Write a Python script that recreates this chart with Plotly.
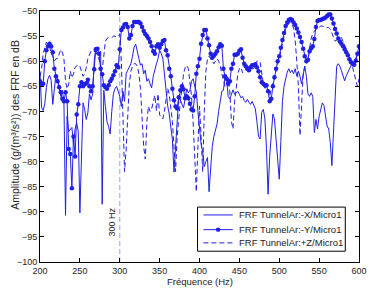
import plotly.graph_objects as go

freq = list(range(200, 601, 2))

frf_x = [
-62.5,-69.2,-69.8,-68.5,-65.3,-63.5,-62.8,-63.8,-68.6,-65.8,
-62.6,-63.3,-65.5,-67.0,-65.8,-68.0,-90.7,-71.0,-74.0,-73.5,
-73.2,-76.6,-73.5,-72.3,-74.0,-90.2,-76.8,-68.3,-69.6,-71.6,
-70.3,-66.5,-67.7,-66.5,-59.9,-57.4,-58.7,-58.4,-58.0,-88.5,
-65.8,-69.0,-72.0,-73.0,-74.5,-70.0,-66.5,-65.5,-65.0,-66.0,
-67.0,-69.0,-66.0,-68.0,-62.5,-61.8,-61.2,-60.5,-59.0,-57.2,
-56.6,-58.5,-59.5,-60.8,-60.5,-62.5,-61.8,-64.0,-63.5,-64.5,
-65.3,-63.0,-61.5,-60.5,-59.5,-57.8,-58.5,-59.4,-62.5,-66.0,
-68.8,-70.5,-73.0,-75.6,-82.1,-77.6,-71.4,-67.1,-67.8,-68.5,
-69.3,-67.5,-65.5,-66.3,-65.8,-64.0,-63.5,-65.0,-66.0,-70.0,
-73.5,-76.5,-78.0,-81.0,-80.0,-79.2,-86.0,-80.1,-77.0,-75.0,
-74.0,-72.5,-70.0,-67.5,-66.0,-65.8,-63.0,-63.5,-67.0,-67.5,
-66.5,-65.7,-66.6,-66.3,-66.0,-66.6,-67.3,-67.0,-67.8,-68.2,
-67.6,-68.2,-68.6,-68.0,-68.8,-69.5,-72.0,-75.0,-75.5,-70.2,
-69.6,-71.5,-77.4,-86.5,-79.0,-74.0,-70.5,-71.5,-76.0,-81.0,
-83.5,-76.0,-68.0,-65.0,-63.5,-62.2,-61.5,-62.3,-61.8,-62.5,
-61.5,-63.0,-62.0,-63.0,-64.5,-62.5,-61.0,-63.0,-66.5,-67.0,
-66.3,-67.0,-74.2,-71.6,-73.5,-71.0,-69.5,-68.3,-68.8,-71.0,
-72.9,-73.5,-76.2,-80.8,-73.6,-65.1,-61.0,-60.5,-61.0,-61.9,
-63.0,-63.9,-62.9,-62.2,-61.5,-60.9,-60.5,-60.0,-59.3,-58.8,
-58.0]

frf_y = [
-64.0,-64.5,-64.5,-60.0,-57.8,-57.0,-56.5,-57.0,-58.2,-61.5,
-63.0,-64.0,-65.2,-66.2,-67.5,-68.0,-66.2,-68.0,-77.5,-78.5,
-85.3,-75.0,-79.0,-70.6,-68.6,-65.0,-64.2,-65.0,-64.6,-64.4,
-63.7,-65.0,-66.0,-65.0,-61.6,-57.6,-57.5,-58.5,-61.5,-62.6,
-64.8,-65.2,-65.5,-64.8,-64.0,-63.5,-62.8,-62.0,-60.8,-61.2,
-57.6,-53.8,-53.3,-52.7,-52.6,-53.2,-55.5,-54.8,-53.0,-52.2,
-52.2,-52.2,-52.2,-52.5,-53.2,-54.0,-54.6,-55.0,-55.5,-56.2,
-57.0,-58.0,-58.5,-57.0,-56.6,-57.3,-56.6,-56.0,-55.8,-57.8,
-58.8,-61.5,-63.0,-65.5,-67.8,-69.0,-69.4,-67.2,-65.8,-65.0,
-65.6,-67.4,-67.0,-67.4,-68.5,-69.6,-69.8,-67.0,-62.5,-61.0,
-59.5,-56.5,-54.8,-53.8,-53.8,-55.5,-56.8,-58.5,-59.3,-58.9,
-58.5,-58.0,-57.2,-56.6,-56.9,-61.5,-63.0,-63.5,-64.5,-64.0,
-61.5,-60.5,-58.7,-58.7,-58.5,-57.9,-57.6,-59.3,-60.5,-61.0,
-61.5,-61.8,-61.2,-60.8,-60.8,-60.6,-61.2,-62.0,-63.2,-64.2,
-64.5,-64.8,-64.8,-66.0,-68.0,-67.5,-65.0,-63.2,-61.5,-60.0,
-59.0,-57.3,-55.8,-54.4,-53.0,-52.3,-51.8,-51.6,-51.8,-52.3,
-52.8,-53.5,-54.3,-55.2,-56.2,-57.5,-59.0,-60.0,-59.7,-58.0,
-57.4,-57.0,-55.6,-53.2,-52.0,-51.8,-51.8,-51.6,-51.5,-51.3,
-51.0,-50.7,-50.7,-51.5,-52.5,-53.6,-54.5,-55.5,-56.1,-56.5,
-57.0,-57.6,-58.2,-58.8,-59.6,-60.2,-60.5,-60.7,-59.9,-58.5,
-57.0]

frf_z = [
-63.0,-61.5,-58.5,-57.0,-56.2,-56.7,-57.0,-58.5,-59.0,-60.0,
-59.5,-59.5,-58.5,-57.7,-58.2,-59.5,-64.0,-65.5,-64.5,-62.0,
-63.3,-62.5,-61.2,-60.9,-60.7,-61.0,-62.3,-63.0,-62.5,-61.3,
-59.5,-58.8,-58.0,-57.9,-58.0,-58.2,-58.8,-59.6,-61.0,-61.5,
-59.0,-56.0,-55.5,-55.3,-55.3,-55.3,-55.0,-55.0,-55.2,-54.8,
-54.6,-60.0,-69.0,-82.0,-77.7,-71.4,-64.5,-62.0,-61.0,-60.5,
-60.5,-61.0,-62.5,-65.5,-71.0,-77.0,-79.5,-72.0,-69.0,-70.0,
-69.5,-68.3,-66.8,-69.9,-66.5,-70.7,-71.0,-71.5,-70.0,-67.0,
-65.4,-66.5,-69.0,-72.0,-77.0,-82.0,-75.0,-71.0,-68.0,-65.5,
-62.5,-61.3,-60.8,-61.5,-63.8,-67.0,-72.0,-80.0,-86.0,-77.0,
-69.0,-75.0,-82.0,-70.0,-62.0,-59.5,-59.0,-59.5,-60.0,-60.5,
-60.0,-59.5,-60.0,-61.0,-62.5,-64.0,-65.0,-64.5,-63.5,-66.0,
-72.0,-73.5,-68.0,-65.5,-62.5,-61.5,-61.2,-62.3,-62.0,-61.5,
-61.2,-61.0,-60.9,-61.5,-61.5,-60.5,-60.0,-59.9,-60.2,-62.5,
-64.5,-65.4,-65.1,-65.4,-67.0,-65.4,-64.5,-63.5,-61.9,-60.2,
-59.3,-58.0,-56.5,-55.0,-53.6,-53.0,-52.4,-52.3,-52.5,-53.5,
-56.0,-60.0,-65.0,-74.8,-68.0,-62.5,-61.0,-60.5,-59.5,-57.5,
-55.5,-54.5,-54.0,-53.6,-53.5,-53.3,-53.0,-53.0,-53.2,-53.3,
-53.3,-53.3,-53.6,-54.5,-55.2,-56.0,-55.8,-55.5,-55.3,-55.3,
-56.0,-56.8,-57.8,-58.6,-59.5,-60.2,-61.2,-62.5,-64.0,-65.0,
-63.5]

names = ["FRF TunnelAr:-X/Micro1", "FRF TunnelAr:-Y/Micro1", "FRF TunnelAr:+Z/Micro1"]
marker_freq = 300
x_ticks = [200, 250, 300, 350, 400, 450, 500, 550, 600]
y_ticks = [-100, -95, -90, -85, -80, -75, -70, -65, -60, -55, -50]

blue = "#1f1fe6"
dash = "5px,3px"
font = "Liberation Sans"
fig = go.Figure()
fig.add_trace(go.Scatter(x=freq, y=frf_x, mode="lines", name=names[0],
                         line=dict(color=blue, width=1)))
fig.add_trace(go.Scatter(x=freq, y=frf_y, mode="lines+markers", name=names[1],
                         line=dict(color=blue, width=1),
                         marker=dict(color=blue, size=4.5)))
fig.add_trace(go.Scatter(x=freq, y=frf_z, mode="lines", name=names[2],
                         line=dict(color=blue, width=1, dash=dash)))

fig.add_shape(type="line", xref="x", yref="paper", x0=marker_freq, x1=marker_freq,
              y0=0, y1=1, line=dict(color="#a9b4ff", width=1.2, dash=dash), layer="below")
fig.add_annotation(x=marker_freq, y=-92, xref="x", yref="y", text=f"{marker_freq} Hz",
                   textangle=-90, showarrow=False, xanchor="right", xshift=-1,
                   font=dict(family=font, size=9, color="#222"))

fig.add_annotation(x=-0.103, y=0.547, xref="paper", yref="paper",
                   text="Amplitude (g/(m³/s²)) des FRF en dB", textangle=-90,
                   showarrow=False, font=dict(family=font, size=10.5, color="#222"))
fig.add_annotation(x=0.5, y=-0.1016, xref="paper", yref="paper", yanchor="bottom",
                   text="Fréquence (Hz)", showarrow=False, borderpad=0,
                   font=dict(family=font, size=9.5, color="#222"))

# hand-drawn legend box (matches the compact MATLAB legend)
leg_x0, leg_x1, leg_y0, leg_y1 = 0.4939, 0.957, 0.043, 0.2188
row_y = [0.1875, 0.1289, 0.0762]
smp_x0, smp_x1, smp_xm, txt_x = 0.5123, 0.6043, 0.5583, 0.6166
fig.add_shape(type="rect", xref="paper", yref="paper", x0=leg_x0, x1=leg_x1,
              y0=leg_y0, y1=leg_y1, line=dict(color="black", width=1), fillcolor="white",
              layer="above")
styles = [None, None, dash]
for name, ry, st in zip(names, row_y, styles):
    fig.add_shape(type="line", xref="paper", yref="paper", x0=smp_x0, x1=smp_x1,
                  y0=ry, y1=ry, line=dict(color=blue, width=1, dash=st or "solid"))
    fig.add_annotation(x=txt_x, y=ry, xref="paper", yref="paper", text=name,
                       xanchor="left", yanchor="middle", showarrow=False,
                       font=dict(family=font, size=9.5, color="#222"))
fig.add_shape(type="circle", xref="paper", yref="paper", xsizemode="pixel",
              ysizemode="pixel", xanchor=smp_xm, yanchor=row_y[1],
              x0=-2.2, x1=2.2, y0=-2.2, y1=2.2, fillcolor=blue, line=dict(color=blue, width=0))

axis_common = dict(showline=True, linecolor="black", linewidth=1, mirror="ticks",
                   ticks="inside", ticklen=4, tickcolor="black", showgrid=False,
                   zeroline=False, ticklabeloverflow="allow",
                   tickfont=dict(family=font, size=9, color="#222"))
fig.update_xaxes(range=[200, 600], tickvals=x_ticks, **axis_common)
fig.update_yaxes(range=[-100, -50], tickvals=y_ticks, **axis_common)

fig.update_layout(
    width=373, height=288,
    margin=dict(l=40, r=8, t=6, b=26),
    paper_bgcolor="white", plot_bgcolor="white",
    showlegend=False,
)
fig.write_html("out.html")
